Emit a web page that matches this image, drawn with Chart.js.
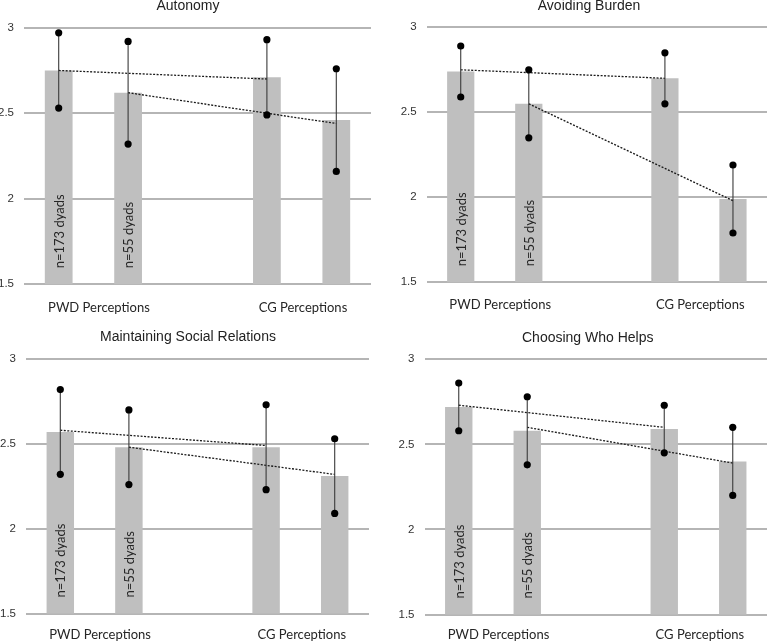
<!DOCTYPE html>
<html>
<head>
<meta charset="utf-8">
<title>PWD and CG perceptions</title>
<script src="https://cdn.jsdelivr.net/npm/chart.js@4.4.1/dist/chart.umd.min.js"></script>
<style>
  body { margin: 0; background: #fff; }
  #wrap { position: relative; width: 771px; height: 643px; overflow: hidden; }
  canvas { position: absolute; }
</style>
</head>
<body>
<div id="wrap">
  <canvas id="chart-autonomy" width="385" height="320" style="left:0;top:0"></canvas>
  <canvas id="chart-burden" width="386" height="320" style="left:385px;top:0"></canvas>
  <canvas id="chart-social" width="385" height="323" style="left:0;top:320px"></canvas>
  <canvas id="chart-helps" width="386" height="323" style="left:385px;top:320px"></canvas>
</div>
<script>
// 1. Data
const panelTitles = ['Autonomy', 'Avoiding Burden', 'Maintaining Social Relations', 'Choosing Who Helps'];
const barPositions = [0, 1, 3, 4];          // PWD n=173, PWD n=55, CG n=173, CG n=55
const groupLabels = ['PWD Perceptions', 'CG Perceptions'];
const sampleLabels = ['n=173 dyads', 'n=55 dyads'];
const yTicks = [1.5, 2, 2.5, 3];

const autonomyMeans = [2.75, 2.62, 2.71, 2.46];
const autonomyLow = [2.53, 2.32, 2.49, 2.16];
const autonomyHigh = [2.97, 2.92, 2.93, 2.76];
const autonomyTrend = [[2.75, 2.70], [2.62, 2.44]];

const burdenMeans = [2.74, 2.55, 2.70, 1.99];
const burdenLow = [2.59, 2.35, 2.55, 1.79];
const burdenHigh = [2.89, 2.75, 2.85, 2.19];
const burdenTrend = [[2.75, 2.70], [2.55, 1.98]];

const socialMeans = [2.57, 2.48, 2.48, 2.31];
const socialLow = [2.32, 2.26, 2.23, 2.09];
const socialHigh = [2.82, 2.70, 2.73, 2.53];
const socialTrend = [[2.58, 2.49], [2.48, 2.32]];

const helpsMeans = [2.72, 2.58, 2.59, 2.40];
const helpsLow = [2.58, 2.38, 2.45, 2.20];
const helpsHigh = [2.86, 2.78, 2.73, 2.60];
const helpsTrend = [[2.73, 2.60], [2.60, 2.39]];

// 2. Panel layout (margins in px so every plot area lands where the original has it)
const panels = [
  { id: 'chart-autonomy', title: panelTitles[0], means: autonomyMeans, low: autonomyLow, high: autonomyHigh, trend: autonomyTrend,
    box: { padLeft: 5, axisWidth: 19, padRight: 14, axisHeight: 35.7, tickPad: 15.5, titleTop: 1, titleBottom: 16.2 } },
  { id: 'chart-burden', title: panelTitles[1], means: burdenMeans, low: burdenLow, high: burdenHigh, trend: burdenTrend,
    box: { padLeft: 22, axisWidth: 19.7, padRight: 0, axisHeight: 37.7, tickPad: 14.5, titleTop: 1, titleBottom: 15.8 } },
  { id: 'chart-social', title: panelTitles[2], means: socialMeans, low: socialLow, high: socialHigh, trend: socialTrend,
    box: { padLeft: 7, axisWidth: 19, padRight: 16, axisHeight: 29.5, tickPad: 14, titleTop: 12, titleBottom: 16.5 } },
  { id: 'chart-helps', title: panelTitles[3], means: helpsMeans, low: helpsLow, high: helpsHigh, trend: helpsTrend,
    box: { padLeft: 21, axisWidth: 18.5, padRight: 1.5, axisHeight: 28.5, tickPad: 13, titleTop: 12.5, titleBottom: 16.3 } }
];

const groupTickValues = [0.58, 3.52];

// 3. Vertical "n=... dyads" labels inside the first two bars
const sampleTextPlugin = {
  id: 'sampleText',
  // the y labels are clipped to the axis box, widen it to the canvas edge
  afterLayout(chart) {
    chart.scales.y.left = 0;
  },
  afterDatasetsDraw(chart) {
    const ctx = chart.ctx;
    const xScale = chart.scales.x;
    const bottom = chart.chartArea.bottom;
    ctx.save();
    ctx.fillStyle = '#262626';
    ctx.font = '13px Lato';
    ctx.textAlign = 'left';
    ctx.textBaseline = 'middle';
    sampleLabels.forEach((label, i) => {
      ctx.save();
      ctx.translate(xScale.getPixelForValue(barPositions[i]) + 1, bottom - 16);
      ctx.rotate(-Math.PI / 2);
      ctx.fillText(label, 0, 0);
      ctx.restore();
    });
    ctx.restore();
  }
};

function buildChart(p) {
  const datasets = [];

  // bars
  datasets.push({
    type: 'bar',
    data: barPositions.map((x, i) => ({ x: x, y: p.means[i] })),
    backgroundColor: '#bfbfbf',
    borderWidth: 0,
    categoryPercentage: 1,
    barPercentage: 0.4,
    order: 2
  });

  // dotted trend lines: n=173 PWD -> CG, n=55 PWD -> CG
  p.trend.forEach((pair, k) => {
    datasets.push({
      type: 'line',
      data: [{ x: barPositions[k], y: pair[0] }, { x: barPositions[k + 2], y: pair[1] }],
      borderColor: '#1a1a1a',
      borderWidth: 1.3,
      borderDash: [2, 1.5],
      pointRadius: 0,
      fill: false,
      order: 1
    });
  });

  // error bars with dots at both ends
  barPositions.forEach((x, i) => {
    datasets.push({
      type: 'line',
      data: [{ x: x, y: p.low[i] }, { x: x, y: p.high[i] }],
      borderColor: '#3a3a3a',
      borderWidth: 1.1,
      pointRadius: 3.6,
      pointBackgroundColor: '#000',
      pointBorderWidth: 0,
      fill: false,
      order: 0
    });
  });

  const ctx = document.getElementById(p.id).getContext('2d');
  return new Chart(ctx, {
    type: 'bar',
    data: { datasets: datasets },
    options: {
      responsive: false,
      animation: false,
      devicePixelRatio: 1,
      layout: { padding: { left: p.box.padLeft, right: p.box.padRight, top: 0, bottom: 0 } },
      plugins: {
        legend: { display: false },
        tooltip: { enabled: false },
        title: {
          display: true,
          text: p.title,
          color: '#222',
          font: { family: 'Liberation Sans', size: 14, weight: 'normal', lineHeight: 0.75 },
          padding: { top: p.box.titleTop, bottom: p.box.titleBottom }
        }
      },
      scales: {
        x: {
          type: 'linear',
          min: -0.5,
          max: 4.5,
          offset: false,
          grid: { display: false, drawTicks: false },
          border: { display: false },
          afterBuildTicks: s => { s.ticks = groupTickValues.map(v => ({ value: v })); },
          afterFit: s => { s.height = p.box.axisHeight; },
          ticks: {
            autoSkip: false,
            maxRotation: 0,
            padding: p.box.tickPad,
            color: '#262626',
            font: { family: 'Lato', size: 13 },
            callback: (v, i) => groupLabels[i]
          }
        },
        y: {
          min: 1.5,
          max: 3,
          grid: { color: '#b5b5b5', lineWidth: 2, drawTicks: false },
          border: { display: false },
          afterBuildTicks: s => { s.ticks = yTicks.map(v => ({ value: v })); },
          afterFit: s => { s.width = p.box.axisWidth; },
          ticks: {
            padding: 10,
            color: '#333',
            font: { family: 'Liberation Sans', size: 11.5 },
            callback: v => String(v)
          }
        }
      }
    },
    plugins: [sampleTextPlugin]
  });
}

document.addEventListener('DOMContentLoaded', () => {
  panels.forEach(p => buildChart(p));
});
</script>
</body>
</html>
